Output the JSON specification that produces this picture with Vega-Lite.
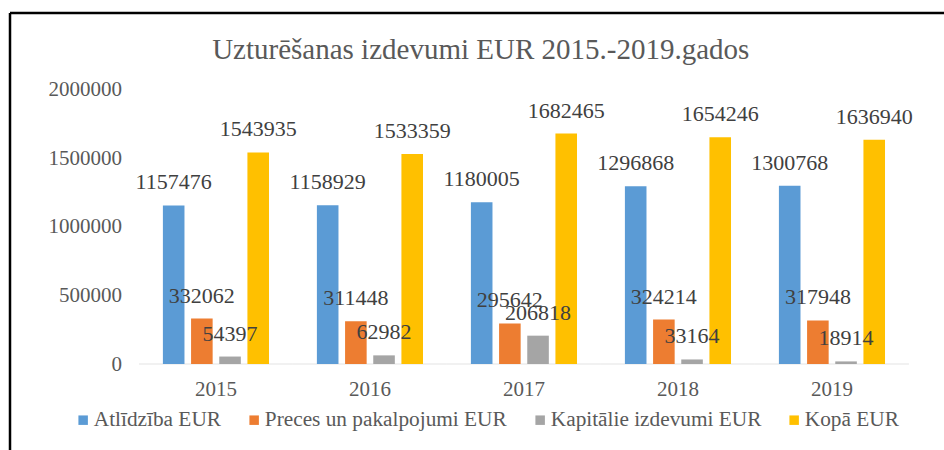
{
  "$schema": "https://vega.github.io/schema/vega-lite/v6.json",
  "autosize": {"type": "none"},
  "width": 934.5,
  "height": 437.5,
  "padding": {"left": 9.5, "top": 12.5, "right": 0, "bottom": 0},
  "background": "white",
  "title": {"text": "Uzturēšanas izdevumi EUR 2015.-2019.gados", "font": "Liberation Serif", "fontSize": 29, "fontWeight": "normal", "color": "#595959", "anchor": "middle", "frame": "group", "offset": -75, "dx": 4, "baseline": "alphabetic"},
  "datasets": {
    "main": [
      {"year": "2015", "series": "Atlīdzība EUR", "value": 1157476},
      {"year": "2015", "series": "Preces un pakalpojumi EUR", "value": 332062},
      {"year": "2015", "series": "Kapitālie izdevumi EUR", "value": 54397},
      {"year": "2015", "series": "Kopā EUR", "value": 1543935},
      {"year": "2016", "series": "Atlīdzība EUR", "value": 1158929},
      {"year": "2016", "series": "Preces un pakalpojumi EUR", "value": 311448},
      {"year": "2016", "series": "Kapitālie izdevumi EUR", "value": 62982},
      {"year": "2016", "series": "Kopā EUR", "value": 1533359},
      {"year": "2017", "series": "Atlīdzība EUR", "value": 1180005},
      {"year": "2017", "series": "Preces un pakalpojumi EUR", "value": 295642},
      {"year": "2017", "series": "Kapitālie izdevumi EUR", "value": 206818},
      {"year": "2017", "series": "Kopā EUR", "value": 1682465},
      {"year": "2018", "series": "Atlīdzība EUR", "value": 1296868},
      {"year": "2018", "series": "Preces un pakalpojumi EUR", "value": 324214},
      {"year": "2018", "series": "Kapitālie izdevumi EUR", "value": 33164},
      {"year": "2018", "series": "Kopā EUR", "value": 1654246},
      {"year": "2019", "series": "Atlīdzība EUR", "value": 1300768},
      {"year": "2019", "series": "Preces un pakalpojumi EUR", "value": 317948},
      {"year": "2019", "series": "Kapitālie izdevumi EUR", "value": 18914},
      {"year": "2019", "series": "Kopā EUR", "value": 1636940}
    ]
  },
  "data": {"name": "main"},
  "config": {"view": {"stroke": null}, "font": "Liberation Serif"},
  "resolve": {"axis": {"x": "independent"}},
  "layer": [
    {
      "transform": [{"filter": "datum.series === 'Kopā EUR'"}],
      "mark": {"type": "tick", "orient": "horizontal", "size": 154, "thickness": 1, "color": "#d9d9d9"},
      "encoding": {
        "x": {"field": "year", "type": "nominal", "scale": {"paddingInner": 0, "paddingOuter": 0.534, "align": 0.787},
              "axis": {"orient": "top", "domain": true, "domainColor": "#000000", "domainWidth": 2.5, "labels": false, "ticks": false, "grid": false, "title": null}},
        "y": {"datum": 0, "type": "quantitative", "scale": {"domain": [-627737, 2565693], "nice": false, "zero": false}}
      }
    },
    {
      "mark": {"type": "bar"},
      "encoding": {
        "x": {"field": "year", "type": "nominal", "scale": {"paddingInner": 0, "paddingOuter": 0.534, "align": 0.787},
              "axis": {"orient": "bottom", "offset": -86, "domain": false, "ticks": false, "grid": false, "labelAngle": 0, "labelFont": "Liberation Serif", "labelFontSize": 21, "labelColor": "#595959", "labelPadding": 14, "title": null}},
        "xOffset": {"field": "series", "type": "nominal", "sort": ["Atlīdzība EUR", "Preces un pakalpojumi EUR", "Kapitālie izdevumi EUR", "Kopā EUR"], "scale": {"paddingInner": 0.234, "paddingOuter": 0.85}},
        "y": {"field": "value", "type": "quantitative", "scale": {"domain": [-627737, 2565693], "nice": false, "zero": false},
              "axis": {"orient": "left", "values": [0, 500000, 1000000, 1500000, 2000000], "format": "d", "domain": true, "domainColor": "#000000", "domainWidth": 2.5, "ticks": false, "tickSize": 0, "grid": false, "labelPadding": -112, "labelFont": "Liberation Serif", "labelFontSize": 21, "labelColor": "#595959", "title": null}},
        "color": {"field": "series", "type": "nominal", "sort": ["Atlīdzība EUR", "Preces un pakalpojumi EUR", "Kapitālie izdevumi EUR", "Kopā EUR"],
                  "scale": {"domain": ["Atlīdzība EUR", "Preces un pakalpojumi EUR", "Kapitālie izdevumi EUR", "Kopā EUR"], "range": ["#5B9BD5", "#ED7D31", "#A5A5A5", "#FFC000"]},
                  "legend": {"orient": "none", "legendX": 63, "legendY": 397, "direction": "horizontal", "title": null, "symbolType": "square", "symbolSize": 90, "symbolStrokeWidth": 0, "labelFont": "Liberation Serif", "labelFontSize": 21.3, "labelColor": "#595959", "labelOffset": 0, "columnPadding": 22, "labelLimit": 400}}
      }
    },
    {
      "mark": {"type": "text", "baseline": "middle", "dy": -23, "font": "Liberation Serif", "fontSize": 22, "color": "#404040"},
      "encoding": {
        "x": {"field": "year", "type": "nominal", "scale": {"paddingInner": 0, "paddingOuter": 0.534, "align": 0.787}, "axis": null},
        "xOffset": {"field": "series", "type": "nominal", "sort": ["Atlīdzība EUR", "Preces un pakalpojumi EUR", "Kapitālie izdevumi EUR", "Kopā EUR"], "scale": {"paddingInner": 0.234, "paddingOuter": 0.85}},
        "y": {"field": "value", "type": "quantitative", "scale": {"domain": [-627737, 2565693], "nice": false, "zero": false}},
        "text": {"field": "value", "type": "quantitative", "format": "d"}
      }
    }
  ]
}
